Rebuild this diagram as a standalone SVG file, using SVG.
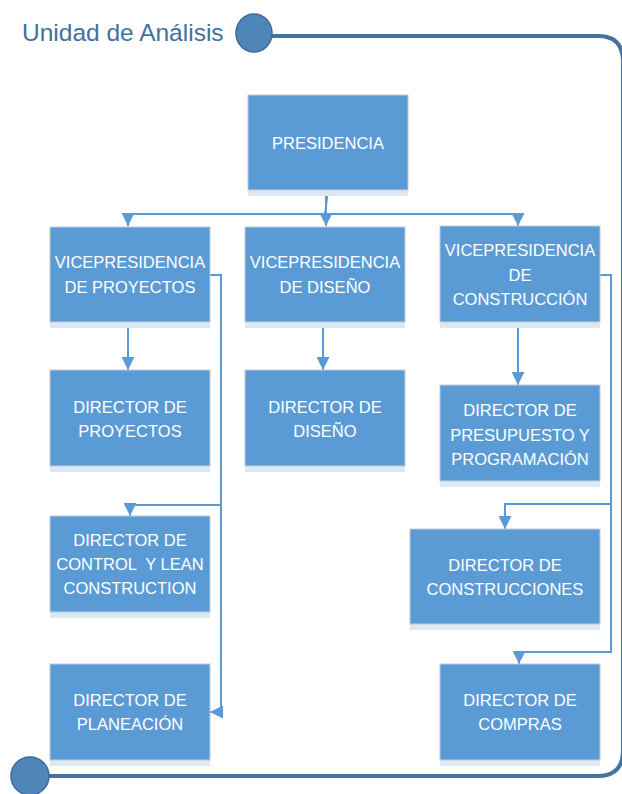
<svg xmlns="http://www.w3.org/2000/svg" width="622" height="794" viewBox="0 0 622 794">
  <style>
    .box rect.fill { fill: #5B9BD5; stroke: #C4CCD6; stroke-width: 1; }
    .box rect.glow { fill: #DDE8F5; }
    .box text { font-family: "Liberation Sans", Arial, sans-serif; font-size: 16.5px; fill: #FFFFFF; text-anchor: middle; white-space: pre; }
    .conn { fill: none; stroke: #5B9BD5; stroke-width: 2; }
    .frame { fill: none; stroke: #45739F; stroke-width: 4; }
    .dot { fill: #4F86BA; stroke: #3E6A96; stroke-width: 1.5; }
    .title { font-family: "Liberation Sans", Arial, sans-serif; font-size: 24.5px; fill: #41719C; }
  </style>
  <defs>
    <marker id="arrow" viewBox="0 0 10 10" refX="10" refY="5" markerWidth="6.5" markerHeight="6.5" markerUnits="strokeWidth" orient="auto">
      <path d="M0,0 L10,5 L0,10 z" fill="#5B9BD5"/>
    </marker>
  </defs>

  <!-- outer frame -->
  <g id="frame">
    <path class="frame" d="M270,36 H598 Q622,36 623,60 V752 Q622,776 598,776 H44"/>
    <ellipse class="dot" cx="254" cy="33" rx="18" ry="19"/>
    <ellipse class="dot" cx="30" cy="776" rx="19" ry="19"/>
    <text class="title" x="22" y="41">Unidad de Análisis</text>
  </g>

  <!-- connectors -->
  <g id="connectors">
    <path class="conn" d="M328,190 L325,214"/>
    <path class="conn" d="M326,190 V226" marker-end="url(#arrow)"/>
    <path class="conn" d="M325,214 H128 V226" marker-end="url(#arrow)"/>
    <path class="conn" d="M325,214 H518 V226" marker-end="url(#arrow)"/>
    <path class="conn" d="M128,322 V370" marker-end="url(#arrow)"/>
    <path class="conn" d="M210,275 H221 V712 H210" marker-end="url(#arrow)"/>
    <path class="conn" d="M221,505 H130 V516" marker-end="url(#arrow)"/>
    <path class="conn" d="M323,322 V370" marker-end="url(#arrow)"/>
    <path class="conn" d="M518,322 V385" marker-end="url(#arrow)"/>
    <path class="conn" d="M600,275 H611 V652 H519 V664" marker-end="url(#arrow)"/>
    <path class="conn" d="M611,504 H505 V529" marker-end="url(#arrow)"/>
  </g>

  <g id="presidencia" class="box">
    <rect class="glow" x="248" y="190" width="160" height="6"/>
    <rect class="fill" x="248" y="95" width="160" height="95"/>
    <text x="328" y="149">PRESIDENCIA</text>
  </g>

  <g id="vp-proyectos" class="box">
    <rect class="glow" x="50" y="322" width="160" height="6"/>
    <rect class="fill" x="50" y="227" width="160" height="95"/>
    <text x="130" y="268">VICEPRESIDENCIA</text>
    <text x="130" y="293">DE PROYECTOS</text>
  </g>

  <g id="vp-diseno" class="box">
    <rect class="glow" x="245" y="322" width="160" height="6"/>
    <rect class="fill" x="245" y="227" width="160" height="95"/>
    <text x="325" y="268">VICEPRESIDENCIA</text>
    <text x="325" y="293">DE DISEÑO</text>
  </g>

  <g id="vp-construccion" class="box">
    <rect class="glow" x="440" y="322" width="160" height="6"/>
    <rect class="fill" x="440" y="226" width="160" height="96"/>
    <text x="520" y="256">VICEPRESIDENCIA</text>
    <text x="520" y="281">DE</text>
    <text x="520" y="305">CONSTRUCCIÓN</text>
  </g>

  <g id="dir-proyectos" class="box">
    <rect class="glow" x="50" y="466" width="160" height="6"/>
    <rect class="fill" x="50" y="370" width="160" height="96"/>
    <text x="130" y="413">DIRECTOR DE</text>
    <text x="130" y="437">PROYECTOS</text>
  </g>

  <g id="dir-diseno" class="box">
    <rect class="glow" x="245" y="466" width="160" height="6"/>
    <rect class="fill" x="245" y="370" width="160" height="96"/>
    <text x="325" y="413">DIRECTOR DE</text>
    <text x="325" y="437">DISEÑO</text>
  </g>

  <g id="dir-presupuesto" class="box">
    <rect class="glow" x="440" y="481" width="160" height="6"/>
    <rect class="fill" x="440" y="385" width="160" height="96"/>
    <text x="520" y="416">DIRECTOR DE</text>
    <text x="520" y="441">PRESUPUESTO Y</text>
    <text x="520" y="465">PROGRAMACIÓN</text>
  </g>

  <g id="dir-control" class="box">
    <rect class="glow" x="50" y="612" width="160" height="6"/>
    <rect class="fill" x="50" y="516" width="160" height="96"/>
    <text x="130" y="546">DIRECTOR DE</text>
    <text x="130" y="570">CONTROL  Y LEAN</text>
    <text x="130" y="594">CONSTRUCTION</text>
  </g>

  <g id="dir-construcciones" class="box">
    <rect class="glow" x="410" y="624" width="190" height="6"/>
    <rect class="fill" x="410" y="529" width="190" height="95"/>
    <text x="505" y="571">DIRECTOR DE</text>
    <text x="505" y="595">CONSTRUCCIONES</text>
  </g>

  <g id="dir-planeacion" class="box">
    <rect class="glow" x="50" y="760" width="160" height="6"/>
    <rect class="fill" x="50" y="664" width="160" height="96"/>
    <text x="130" y="706">DIRECTOR DE</text>
    <text x="130" y="730">PLANEACIÓN</text>
  </g>

  <g id="dir-compras" class="box">
    <rect class="glow" x="440" y="760" width="160" height="6"/>
    <rect class="fill" x="440" y="664" width="160" height="96"/>
    <text x="520" y="706">DIRECTOR DE</text>
    <text x="520" y="730">COMPRAS</text>
  </g>
</svg>
